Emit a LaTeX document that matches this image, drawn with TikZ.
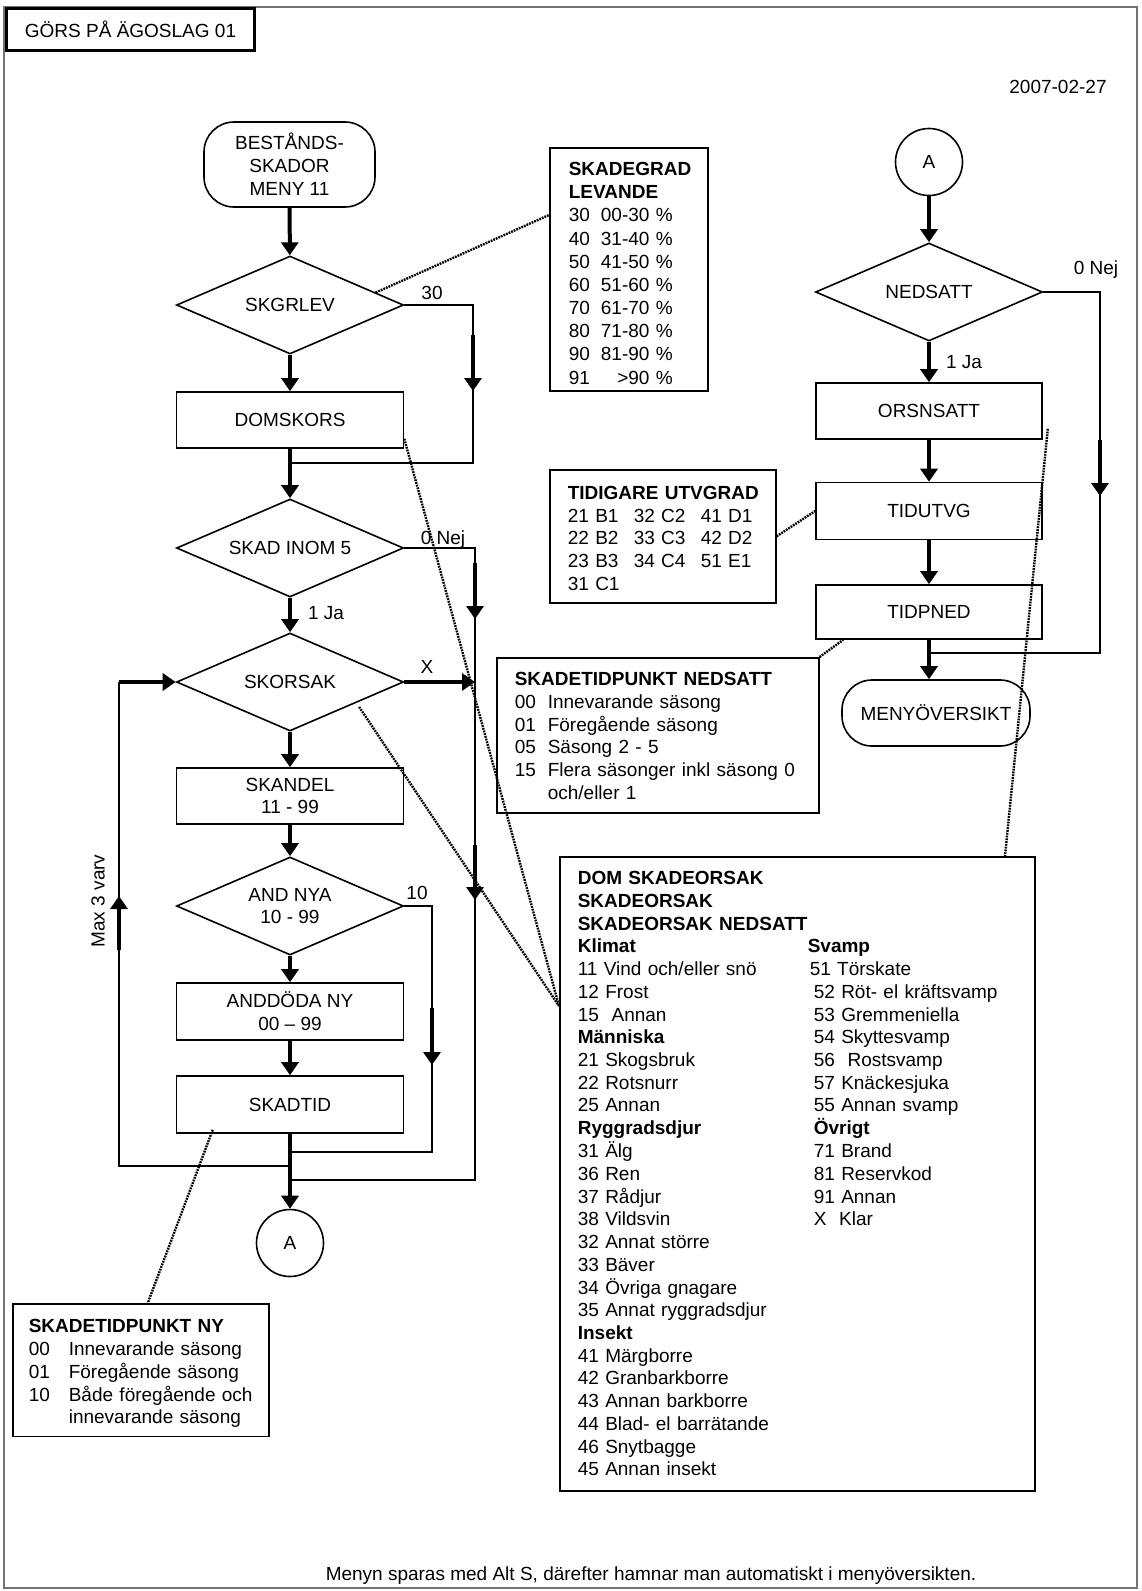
\documentclass[tikz,border=0pt]{standalone}
\usepackage{fontspec}
\setmainfont{Liberation Sans}
\usetikzlibrary{arrows.meta, positioning, calc, shapes.geometric}

\begin{document}
\begin{tikzpicture}[
  x=1pt, y=-1pt,
  font=\fontsize{19}{22.8}\selectfont,
  box/.style={draw, line width=1.6pt, minimum width=227pt, minimum height=56pt,
    inner sep=0pt, align=center},
  dec/.style={draw, diamond, aspect=2.3, line width=1.6pt, minimum width=227pt,
    minimum height=98pt, inner sep=0pt, align=center},
  term/.style={draw, rounded corners=30pt, line width=1.6pt, inner sep=0pt, align=center},
  conn/.style={draw, circle, line width=1.6pt, minimum size=67pt, inner sep=0pt},
  note/.style={draw, line width=1.6pt, anchor=north west, inner xsep=18pt,
    inner ysep=6pt, align=left},
  flow/.style={line width=4pt, -{Triangle[length=13pt,width=17pt]}},
  link/.style={line width=1.5pt},
  dotlink/.style={line width=2.4pt, dash pattern=on 1.8pt off 1pt}
]
  \useasboundingbox (0,0) rectangle (1142,1591);
  \draw[black!55, line width=1.5pt] (4,7) rectangle (1137,1588);

  \node[draw, fill=white, line width=3pt, minimum width=248pt, minimum height=42pt,
    inner sep=0pt] (title) at (130.5,29.5) {GÖRS PÅ ÄGOSLAG 01};
  \node (datum) at (1058,87) {2007-02-27};

  % left column
  \node[term, minimum width=171pt, minimum height=85pt] (bestand) at (289.5,164.5)
    {BESTÅNDS-\\SKADOR\\MENY 11};
  \node[dec] (skgrlev) at (290,305) {SKGRLEV};
  \node[box] (domskors) at (290,420) {DOMSKORS};
  \node[dec] (skadinom) at (290,548) {SKAD INOM 5};
  \node[dec] (skorsak) at (290,682) {SKORSAK};
  \node[box] (skandel) at (290,796) {SKANDEL\\11 - 99};
  \node[dec] (andnya) at (290,906) {AND NYA\\10 - 99};
  \node[box, minimum height=57pt] (anddoda) at (290,1011.5) {ANDDÖDA NY\\00 – 99};
  \node[box, minimum height=57pt] (skadtid) at (290,1104.5) {SKADTID};
  \node[conn] (conA) at (290,1243) {A};

  % right column
  \node[conn] (conB) at (929,162) {A};
  \node[dec] (nedsatt) at (929,292) {NEDSATT};
  \node[box, minimum width=226pt] (orsnsatt) at (929,411) {ORSNSATT};
  \node[box, minimum width=226pt, minimum height=57pt] (tidutvg) at (929,511) {TIDUTVG};
  \node[box, minimum width=226pt, minimum height=54pt] (tidpned) at (929,612) {TIDPNED};
  \node[term, minimum width=188pt, minimum height=66pt] (menyov) at (936,713) {MENYÖVERSIKT};

  % branch corners
  \coordinate (g1) at (473,305);
  \coordinate (g2) at (473,463);
  \coordinate (g3) at (290,463);
  \coordinate (n1) at (475,548);
  \coordinate (n2) at (475,1180);
  \coordinate (n3) at (290,1180);
  \coordinate (x1) at (475,682);
  \coordinate (a1) at (432,906);
  \coordinate (a2) at (432,1152);
  \coordinate (a3) at (290,1152);
  \coordinate (v1) at (290,1166);
  \coordinate (v2) at (119,1166);
  \coordinate (v3) at (119,682);
  \coordinate (r1) at (1100,292);
  \coordinate (r2) at (1100,653);
  \coordinate (r3) at (929,653);

  \draw[link] (skgrlev.east) -- (g1) -- (g2) -- (g3);
  \draw[link] (skadinom.east) -- (n1) -- (n2) -- (n3);
  \draw[link] (andnya.east) -- (a1) -- (a2) -- (a3);
  \draw[link] (v1) -- (v2) -- (v3);
  \draw[link] (nedsatt.east) -- (r1) -- (r2) -- (r3);

  % arrows on the branches
  \coordinate (g4) at (473,335);  \coordinate (g5) at (473,391);
  \coordinate (n4) at (475,563);  \coordinate (n5) at (475,619);
  \coordinate (n6) at (475,845);  \coordinate (n7) at (475,900);
  \coordinate (a4) at (432,1008); \coordinate (a5) at (432,1065);
  \coordinate (v4) at (119,950);  \coordinate (v5) at (119,896);
  \coordinate (r4) at (1100,440); \coordinate (r5) at (1100,496);
  \draw[flow] (g4) -- (g5);
  \draw[flow] (n4) -- (n5);
  \draw[flow] (n6) -- (n7);
  \draw[flow] (a4) -- (a5);
  \draw[flow] (v4) -- (v5);
  \draw[flow] (r4) -- (r5);
  \draw[flow] (v3) -- (skorsak.west);
  \draw[flow] (skorsak.east) -- (x1);

  \draw[flow] (bestand) -- (skgrlev);
  \draw[flow] (skgrlev) -- (domskors);
  \draw[flow] (domskors) -- (skadinom);
  \draw[flow] (skadinom) -- (skorsak);
  \draw[flow] (skorsak) -- (skandel);
  \draw[flow] (skandel) -- (andnya);
  \draw[flow] (andnya) -- (anddoda);
  \draw[flow] (anddoda) -- (skadtid);
  \draw[flow] (skadtid) -- (conA);
  \draw[flow] (conB) -- (nedsatt);
  \draw[flow] (nedsatt) -- (orsnsatt);
  \draw[flow] (orsnsatt) -- (tidutvg);
  \draw[flow] (tidutvg) -- (tidpned);
  \draw[flow] (tidpned.south) -- (tidpned.south |- menyov.north);

  % labels
  \node (l30) at (432,293) {30};
  \node (lnej) at (443,540) {0 Nej};
  \node (lja) at (326,613) {1 Ja};
  \node (lx) at (427,667) {X};
  \node (l10) at (417,893) {10};
  \node (rnej) at (1096,270) {0 Nej};
  \node (rja) at (964,362) {1 Ja};
  \node[rotate=90] (varv) at (98,901) {Max 3 varv};

  % notes
  \node[note, inner xsep=19pt, inner ysep=0pt, text width=120pt] (notegrad) at (549,147) {%
    \renewcommand{\arraystretch}{1.0175}%
    \begin{tabular}{@{}l@{\hspace{11pt}}r@{}}
      \multicolumn{2}{@{}l@{}}{\rule{0pt}{27.6pt}\rlap{\textbf{SKADEGRAD}}}\\
      \multicolumn{2}{@{}l@{}}{\rlap{\textbf{LEVANDE}}}\\
      30 & 00-30 \%\\ 40 & 31-40 \%\\ 50 & 41-50 \%\\ 60 & 51-60 \%\\
      70 & 61-70 \%\\ 80 & 71-80 \%\\ 90 & 81-90 \%\\ 91 & >90 \%
    \end{tabular}};
  \node[note, inner ysep=5.6pt, text width=190pt] (noteutv) at (549,469) {%
    \renewcommand{\arraystretch}{0.998}%
    \begin{tabular}{@{}p{66pt}@{}p{67pt}@{}l@{}}
      \multicolumn{3}{@{}l@{}}{\rule{0pt}{24pt}\textbf{TIDIGARE UTVGRAD}}\\
      21 B1 & 32 C2 & 41 D1\\
      22 B2 & 33 C3 & 42 D2\\
      23 B3 & 34 C4 & 51 E1\\
      31 C1 & &
    \end{tabular}};
  \node[note, inner ysep=6.9pt, text width=286pt] (notened) at (496,657) {%
    \renewcommand{\arraystretch}{0.9956}%
    \begin{tabular}{@{}p{33pt}@{}l@{}}
      \multicolumn{2}{@{}l@{}}{\rule{0pt}{21pt}\textbf{SKADETIDPUNKT NEDSATT}}\\
      00 & Innevarande säsong\\
      01 & Föregående säsong\\
      05 & Säsong 2 - 5\\
      15 & Flera säsonger inkl säsong 0\\
         & och/eller 1
    \end{tabular}};
  \node[note, inner xsep=16pt, inner ysep=5.8pt, text width=224pt] (noteny) at (12,1303) {%
    \renewcommand{\arraystretch}{1.004}%
    \begin{tabular}{@{}p{40pt}@{}l@{}}
      \multicolumn{2}{@{}l@{}}{\rule{0pt}{22.8pt}\textbf{SKADETIDPUNKT NY}}\\
      00 & Innevarande säsong\\
      01 & Föregående säsong\\
      10 & Både föregående och\\
         & innevarande säsong
    \end{tabular}};
  \node[note, inner ysep=8.6pt, text width=439pt] (noteorsak) at (559,856) {%
    \renewcommand{\arraystretch}{0.9965}%
    \begin{tabular}{@{}p{230pt}@{}l@{}}
      \multicolumn{2}{@{}l@{}}{\rule{0pt}{19.3pt}\textbf{DOM SKADEORSAK}}\\
      \multicolumn{2}{@{}l@{}}{\textbf{SKADEORSAK}}\\
      \multicolumn{2}{@{}l@{}}{\textbf{SKADEORSAK NEDSATT}}\\
      \textbf{Klimat} & \textbf{Svamp}\\
      11 Vind och/eller snö & \hspace{2pt}51 Törskate\\
      12 Frost & \hspace{6pt}52 Röt- el kräftsvamp\\
      15\ \ Annan & \hspace{6pt}53 Gremmeniella\\
      \textbf{Människa} & \hspace{6pt}54 Skyttesvamp\\
      21 Skogsbruk & \hspace{6pt}56\ \ Rostsvamp\\
      22 Rotsnurr & \hspace{6pt}57 Knäckesjuka\\
      25 Annan & \hspace{6pt}55 Annan svamp\\
      \textbf{Ryggradsdjur} & \hspace{6pt}\textbf{Övrigt}\\
      31 Älg & \hspace{6pt}71 Brand\\
      36 Ren & \hspace{6pt}81 Reservkod\\
      37 Rådjur & \hspace{6pt}91 Annan\\
      38 Vildsvin & \hspace{6pt}X\ \ Klar\\
      32 Annat större & \\
      33 Bäver & \\
      34 Övriga gnagare & \\
      35 Annat ryggradsdjur & \\
      \textbf{Insekt} & \\
      41 Märgborre & \\
      42 Granbarkborre & \\
      43 Annan barkborre & \\
      44 Blad- el barrätande & \\
      46 Snytbagge & \\
      45 Annan insekt &
    \end{tabular}};

  % dotted links
  \draw[dotlink] ($(skgrlev.north east)!0.5!(skgrlev.east)$) -- ($(notegrad.north west)+(0,68)$);
  \draw[dotlink] ([yshift=10pt]domskors.south east) -- ($(noteorsak.north west)+(0,150)$);
  \draw[dotlink] ([xshift=12pt]skorsak.south east) -- ($(noteorsak.north west)+(0,150)$);
  \draw[dotlink] ([xshift=5pt,yshift=11pt]orsnsatt.south east) -- ($(noteorsak.north west)+(446,0)$);
  \draw[dotlink] (noteutv.east) -- (tidutvg.west);
  \draw[dotlink] (notened.north east) -- ([xshift=28pt]tidpned.south west);
  \draw[dotlink] ([xshift=37pt,yshift=4pt]skadtid.south west) -- ([xshift=7pt]noteny.north);

  \node (footer) at (651,1576)
    {Menyn sparas med Alt S, därefter hamnar man automatiskt i menyöversikten.};
\end{tikzpicture}
\end{document}
